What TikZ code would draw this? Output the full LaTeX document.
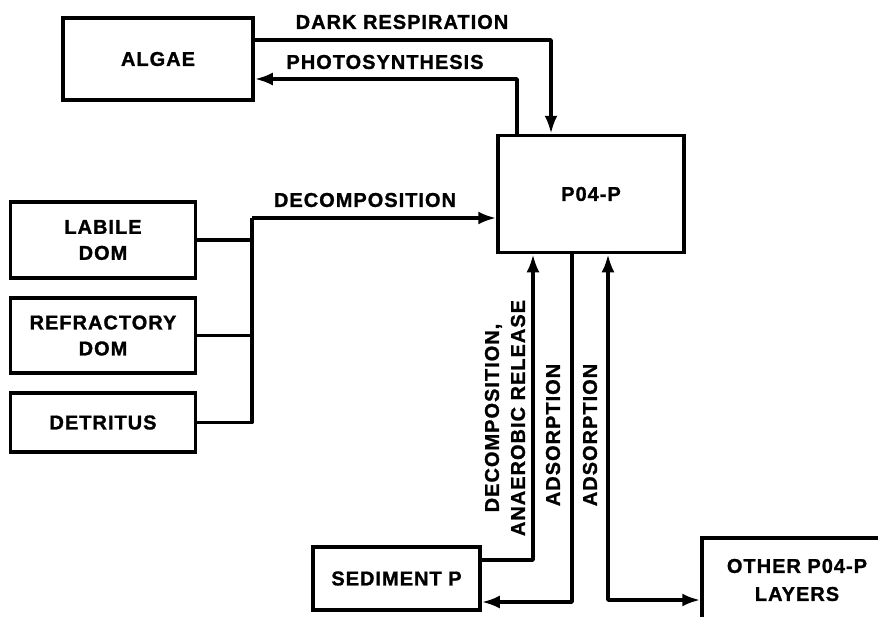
\documentclass[tikz,border=0pt]{standalone}
\usepackage{fontspec}
\setmainfont{Liberation Sans}[LetterSpace=5,BoldFeatures={FakeBold=1.2}]
\usetikzlibrary{arrows.meta}
\begin{document}
\begin{tikzpicture}[
	x=1pt, y=-1pt,
	font=\fontsize{20}{24}\selectfont\bfseries,
	box/.style={ draw, line width=3.5pt, inner sep=0pt, align=center },
	flow/.style={ line width=3.5pt, line join=round, -{Latex[length=18pt,width=13pt]} },
	lbl/.style={ inner sep=0pt, align=center }
]
\useasboundingbox (0,0) rectangle (878,616);

\node at (158,59) (algae) [box,minimum width=190,minimum height=82] {ALGAE};
\node at (591,194) (po4) [box,minimum width=186,minimum height=117] {P04-P};
\node at (103,240) (labile) [box,minimum width=185,minimum height=76] {LABILE\\[2pt]DOM};
\node at (103,335.5) (refrac) [box,minimum width=185,minimum height=75] {REFRACTORY\\[2pt]DOM};
\node at (103,422.5) (detritus) [box,minimum width=185,minimum height=59] {DETRITUS};
\node at (396.5,578.5) (sed) [box,minimum width=167,minimum height=63] {SEDIMENT P};
\node at (797,580) (other) [box,minimum width=190,minimum height=84] {OTHER P04-P\\[4pt]LAYERS};

\coordinate (dr) at (551,40);
\coordinate (ps) at (517,79);
\coordinate (bus) at (252,218);
\coordinate (l1) at (533,560);
\coordinate (l2) at (572,602);
\coordinate (l3) at (608,600);

\draw[flow] (algae.east |- dr) -| (po4.north -| dr);
\draw[flow] (po4.north -| ps) |- (algae.east |- ps);
\foreach \p in {labile,refrac,detritus} \draw[line width=3.5pt,line join=round] (\p.east) -| (bus);
\draw[flow] (bus) -- (po4.west |- bus);
\draw[flow] (sed.east |- l1) -| (po4.south -| l1);
\draw[flow] (po4.south -| l2) |- (sed.east |- l2);
\draw[flow,{Latex[length=18pt,width=13pt]}-{Latex[length=18pt,width=13pt]}] (po4.south -| l3) |- (other.west |- l3);

\node at (402,22) (tdr) [lbl] {DARK RESPIRATION};
\node at (385,62) (tps) [lbl] {PHOTOSYNTHESIS};
\node at (365,200) (tdc) [lbl] {DECOMPOSITION};
\node at (505,418) (tan) [lbl,rotate=90] {DECOMPOSITION,\\[2pt]ANAEROBIC RELEASE};
\node at (553,435) (tad1) [lbl,rotate=90] {ADSORPTION};
\node at (590,435) (tad2) [lbl,rotate=90] {ADSORPTION};

\end{tikzpicture}
\end{document}
